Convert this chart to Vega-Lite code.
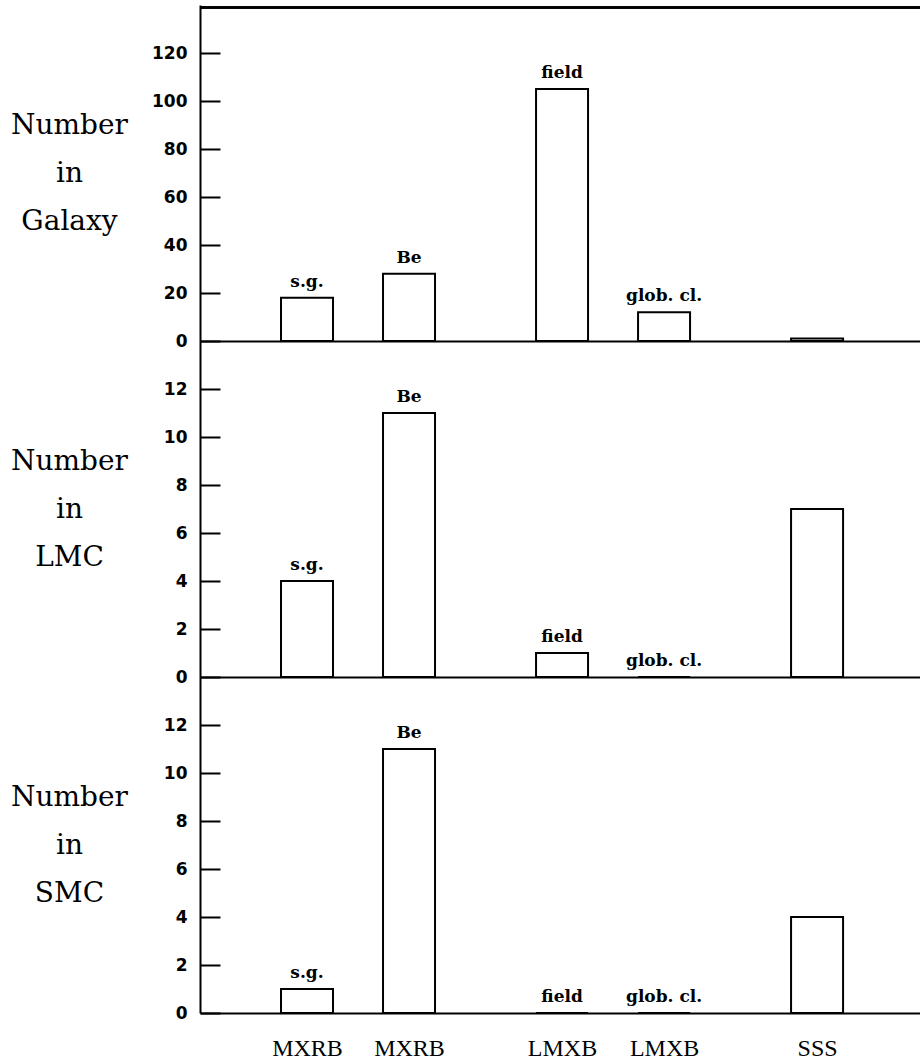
{
  "$schema": "https://vega.github.io/schema/vega-lite/v6.json",
  "autosize": {"type": "none"},
  "padding": {"left": 200, "top": 5, "right": 720, "bottom": 1056},
  "background": "white",
  "bounds": "flush",
  "spacing": 0,
  "config": {
    "view": {"stroke": null},
    "concat": {"spacing": 0},
    "axis": {"grid": false, "domainColor": "black", "tickColor": "black", "labelColor": "black", "titleColor": "black", "domainWidth": 2, "tickWidth": 2}
  },
  "datasets": {
    "counts": [
      {"region": "Galaxy", "slot": 1, "label": "s.g.", "count": 18},
      {"region": "Galaxy", "slot": 2, "label": "Be", "count": 28},
      {"region": "Galaxy", "slot": 3.5, "label": "field", "count": 105},
      {"region": "Galaxy", "slot": 4.5, "label": "glob. cl.", "count": 12},
      {"region": "Galaxy", "slot": 6, "label": "", "count": 1},
      {"region": "LMC", "slot": 1, "label": "s.g.", "count": 4},
      {"region": "LMC", "slot": 2, "label": "Be", "count": 11},
      {"region": "LMC", "slot": 3.5, "label": "field", "count": 1},
      {"region": "LMC", "slot": 4.5, "label": "glob. cl.", "count": 0},
      {"region": "LMC", "slot": 6, "label": "", "count": 7},
      {"region": "SMC", "slot": 1, "label": "s.g.", "count": 1},
      {"region": "SMC", "slot": 2, "label": "Be", "count": 11},
      {"region": "SMC", "slot": 3.5, "label": "field", "count": 0},
      {"region": "SMC", "slot": 4.5, "label": "glob. cl.", "count": 0},
      {"region": "SMC", "slot": 6, "label": "", "count": 4}
    ]
  },
  "vconcat": [
    {
      "width": 720, "height": 336,
      "data": {"name": "counts"},
      "transform": [{"filter": "datum.region == 'Galaxy'"}],
      "layer": [
        {"mark": {"type": "bar", "orient": "vertical", "width": 52, "fill": "white", "stroke": "black", "strokeWidth": 2},
         "encoding": {
           "x": {"field": "slot", "type": "quantitative", "scale": {"domain": [0, 6.96], "nice": false, "zero": false},
                 "axis": {"title": null, "labels": false, "ticks": false}},
           "y": {"field": "count", "type": "quantitative", "scale": {"domain": [0, 140], "nice": false},
           "axis": {"title": ["Number", "in", "Galaxy"], "values": [0, 20, 40, 60, 80, 100, 120], "tickSize": -20, "labelPadding": 33,
             "labelFont": "DejaVu Sans", "labelFontWeight": "bold", "labelFontSize": 17,
             "titleAngle": 0, "titleX": -131, "titleY": 120, "titleAlign": "center", "titleBaseline": "middle",
             "titleFont": "DejaVu Serif", "titleFontWeight": "normal", "titleFontSize": 28, "titleLineHeight": 48}}}},
        {"mark": {"type": "text", "baseline": "alphabetic", "dy": -11, "font": "DejaVu Serif", "fontWeight": "bold", "fontSize": 17, "color": "black"},
         "encoding": {"x": {"field": "slot", "type": "quantitative"}, "y": {"field": "count", "type": "quantitative"}, "text": {"field": "label"}}},
        {"mark": {"type": "rule", "strokeWidth": 2, "color": "black"}, "encoding": {"y": {"datum": 139}}}
      ]
    },
    {
      "width": 720, "height": 336,
      "data": {"name": "counts"},
      "transform": [{"filter": "datum.region == 'LMC'"}],
      "layer": [
        {"mark": {"type": "bar", "orient": "vertical", "width": 52, "fill": "white", "stroke": "black", "strokeWidth": 2},
         "encoding": {
           "x": {"field": "slot", "type": "quantitative", "scale": {"domain": [0, 6.96], "nice": false, "zero": false},
                 "axis": {"title": null, "labels": false, "ticks": false}},
           "y": {"field": "count", "type": "quantitative", "scale": {"domain": [0, 14], "nice": false},
           "axis": {"title": ["Number", "in", "LMC"], "values": [0, 2, 4, 6, 8, 10, 12], "tickSize": -20, "labelPadding": 33,
             "labelFont": "DejaVu Sans", "labelFontWeight": "bold", "labelFontSize": 17,
             "titleAngle": 0, "titleX": -131, "titleY": 120, "titleAlign": "center", "titleBaseline": "middle",
             "titleFont": "DejaVu Serif", "titleFontWeight": "normal", "titleFontSize": 28, "titleLineHeight": 48}}}},
        {"mark": {"type": "text", "baseline": "alphabetic", "dy": -11, "font": "DejaVu Serif", "fontWeight": "bold", "fontSize": 17, "color": "black"},
         "encoding": {"x": {"field": "slot", "type": "quantitative"}, "y": {"field": "count", "type": "quantitative"}, "text": {"field": "label"}}}
      ]
    },
    {
      "width": 720, "height": 336,
      "data": {"name": "counts"},
      "transform": [{"filter": "datum.region == 'SMC'"}],
      "layer": [
        {"mark": {"type": "bar", "orient": "vertical", "width": 52, "fill": "white", "stroke": "black", "strokeWidth": 2},
         "encoding": {
           "x": {"field": "slot", "type": "quantitative", "scale": {"domain": [0, 6.96], "nice": false, "zero": false},
                 "axis": {"title": null, "ticks": false, "values": [1, 2, 3.5, 4.5, 6],
                   "labelExpr": "datum.value < 3 ? 'MXRB' : (datum.value < 5 ? 'LMXB' : 'SSS')",
                   "labelFont": "Liberation Serif", "labelFontSize": 24, "labelBaseline": "alphabetic", "labelPadding": 42}},
           "y": {"field": "count", "type": "quantitative", "scale": {"domain": [0, 14], "nice": false},
           "axis": {"title": ["Number", "in", "SMC"], "values": [0, 2, 4, 6, 8, 10, 12], "tickSize": -20, "labelPadding": 33,
             "labelFont": "DejaVu Sans", "labelFontWeight": "bold", "labelFontSize": 17,
             "titleAngle": 0, "titleX": -131, "titleY": 120, "titleAlign": "center", "titleBaseline": "middle",
             "titleFont": "DejaVu Serif", "titleFontWeight": "normal", "titleFontSize": 28, "titleLineHeight": 48}}}},
        {"mark": {"type": "text", "baseline": "alphabetic", "dy": -11, "font": "DejaVu Serif", "fontWeight": "bold", "fontSize": 17, "color": "black"},
         "encoding": {"x": {"field": "slot", "type": "quantitative"}, "y": {"field": "count", "type": "quantitative"}, "text": {"field": "label"}}}
      ]
    }
  ]
}
